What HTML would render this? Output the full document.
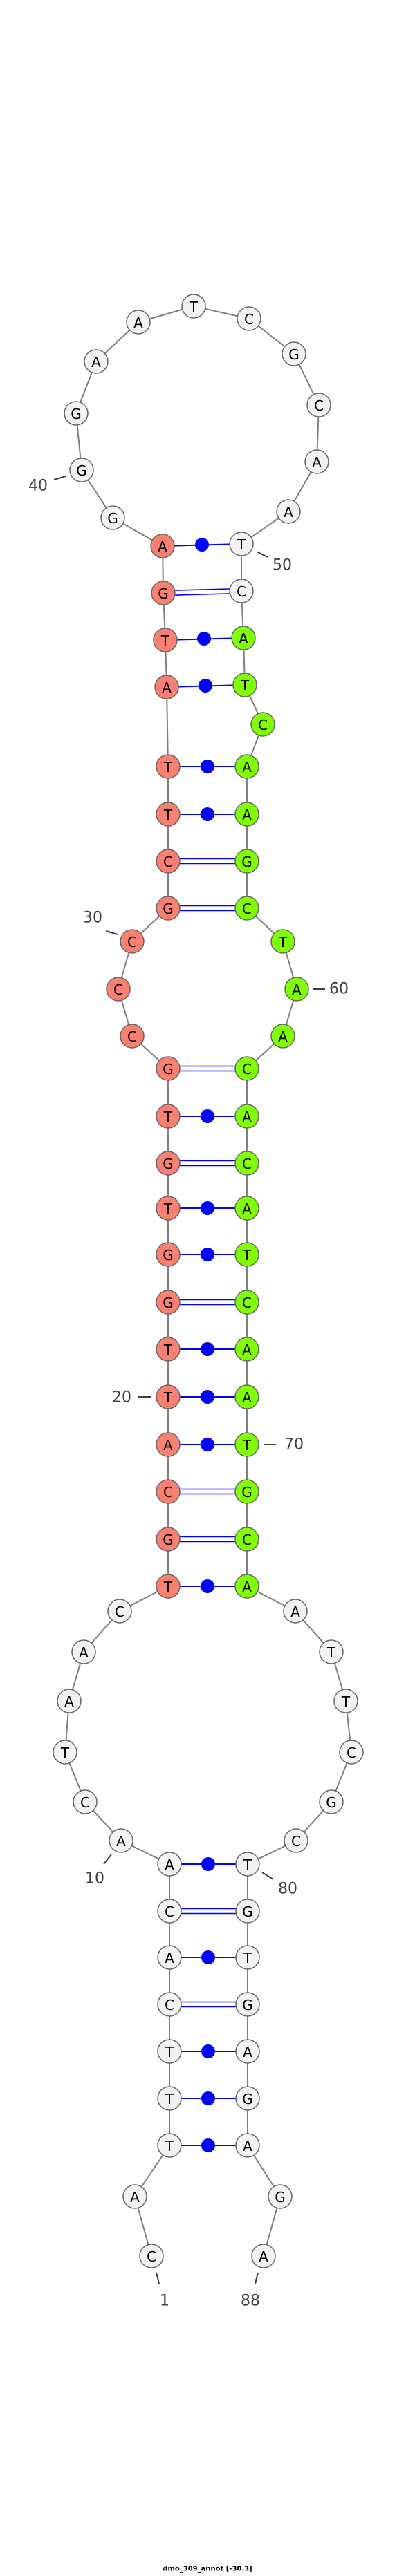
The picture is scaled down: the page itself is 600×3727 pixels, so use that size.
<!DOCTYPE html>
<html><head><meta charset="utf-8"><style>
html,body{margin:0;padding:0;background:#fff;}
svg{display:block;}
.n text{font-family:"DejaVu Sans","Liberation Sans",sans-serif;font-size:20px;text-anchor:middle;dominant-baseline:central;fill:#000;}
.lb{font-family:"DejaVu Sans","Liberation Sans",sans-serif;font-size:22px;fill:#404040;text-anchor:middle;dominant-baseline:central;}
</style></head><body>
<svg width="600" height="3727" viewBox="0 0 600 3727" xmlns="http://www.w3.org/2000/svg">
<polyline fill="none" stroke="#808080" stroke-width="2" points="219,3264 195,3178 245,3104 245,3036 245,2968 245,2900 245,2832 245,2765 245,2697 175,2663 123,2607 94,2535 100,2461 121,2390 173,2331 243,2295 243,2227 243,2158 243,2090 243,2021 243,1952 243,1884 243,1815 243,1748 243,1683 243,1615 243,1546 191,1499 171,1431 191,1362 243,1314 243,1246 243,1178 243,1109 241,994 239,926 236,858 235,790 163,749 118,680 110,598 139,523 200,466 280,443 360,461 425,512 461,586 458,668 417,740 349,787 349,855 352,923 354,991 380,1048 357,1109 357,1178 357,1246 357,1314 409,1362 429,1431 409,1499 357,1546 357,1615 357,1683 357,1748 357,1815 357,1884 357,1952 357,2021 357,2090 357,2158 357,2227 357,2295 427,2331 479,2390 500,2461 508,2535 479,2607 428,2663 358,2697 358,2765 358,2832 358,2900 358,2968 358,3036 358,3104 405,3178 381,3264"/>
<g stroke="#0000ff" stroke-width="2">
<line x1="245" y1="3104" x2="358" y2="3104"/>
<line x1="245" y1="3036" x2="358" y2="3036"/>
<line x1="245" y1="2968" x2="358" y2="2968"/>
<line x1="245" y1="2832" x2="358" y2="2832"/>
<line x1="245" y1="2697" x2="358" y2="2697"/>
<line x1="243" y1="2295" x2="357" y2="2295"/>
<line x1="243" y1="2090" x2="357" y2="2090"/>
<line x1="243" y1="2021" x2="357" y2="2021"/>
<line x1="243" y1="1952" x2="357" y2="1952"/>
<line x1="243" y1="1815" x2="357" y2="1815"/>
<line x1="243" y1="1748" x2="357" y2="1748"/>
<line x1="243" y1="1615" x2="357" y2="1615"/>
<line x1="243" y1="1178" x2="357" y2="1178"/>
<line x1="243" y1="1109" x2="357" y2="1109"/>
<line x1="241" y1="994" x2="354" y2="991"/>
<line x1="239" y1="926" x2="352" y2="923"/>
<line x1="235" y1="790" x2="349" y2="787"/>
</g>
<g stroke="#0000ff" stroke-width="1.6">
<line x1="245" y1="2896.5" x2="358" y2="2896.5"/><line x1="245" y1="2903.5" x2="358" y2="2903.5"/>
<line x1="245" y1="2761.5" x2="358" y2="2761.5"/><line x1="245" y1="2768.5" x2="358" y2="2768.5"/>
<line x1="243" y1="2223.5" x2="357" y2="2223.5"/><line x1="243" y1="2230.5" x2="357" y2="2230.5"/>
<line x1="243" y1="2154.5" x2="357" y2="2154.5"/><line x1="243" y1="2161.5" x2="357" y2="2161.5"/>
<line x1="243" y1="1880.5" x2="357" y2="1880.5"/><line x1="243" y1="1887.5" x2="357" y2="1887.5"/>
<line x1="243" y1="1679.5" x2="357" y2="1679.5"/><line x1="243" y1="1686.5" x2="357" y2="1686.5"/>
<line x1="243" y1="1542.5" x2="357" y2="1542.5"/><line x1="243" y1="1549.5" x2="357" y2="1549.5"/>
<line x1="243" y1="1310.5" x2="357" y2="1310.5"/><line x1="243" y1="1317.5" x2="357" y2="1317.5"/>
<line x1="243" y1="1242.5" x2="357" y2="1242.5"/><line x1="243" y1="1249.5" x2="357" y2="1249.5"/>
<line x1="236" y1="854.5" x2="349" y2="851.5"/><line x1="236" y1="861.5" x2="349" y2="858.5"/>
</g>
<g fill="#0000ff">
<circle cx="301" cy="3104" r="10"/><circle cx="301" cy="3036" r="10"/><circle cx="301" cy="2968" r="10"/>
<circle cx="301" cy="2832" r="10"/><circle cx="301" cy="2697" r="10"/><circle cx="300" cy="2295" r="10"/>
<circle cx="300" cy="2090" r="10"/><circle cx="300" cy="2021" r="10"/><circle cx="300" cy="1952" r="10"/>
<circle cx="300" cy="1815" r="10"/><circle cx="300" cy="1748" r="10"/><circle cx="300" cy="1615" r="10"/>
<circle cx="300" cy="1178" r="10"/><circle cx="300" cy="1109" r="10"/><circle cx="297" cy="992" r="10"/>
<circle cx="295" cy="924" r="10"/><circle cx="292" cy="788" r="10"/>
</g>
<g class="n" stroke-width="1.5">
<g stroke="#666"><circle cx="219" cy="3264" r="17" fill="#f2f2f2"/><circle cx="195" cy="3178" r="17" fill="#f2f2f2"/><circle cx="245" cy="3104" r="17" fill="#f2f2f2"/><circle cx="245" cy="3036" r="17" fill="#f2f2f2"/><circle cx="245" cy="2968" r="17" fill="#f2f2f2"/><circle cx="245" cy="2900" r="17" fill="#f2f2f2"/><circle cx="245" cy="2832" r="17" fill="#f2f2f2"/><circle cx="245" cy="2765" r="17" fill="#f2f2f2"/><circle cx="245" cy="2697" r="17" fill="#f2f2f2"/><circle cx="175" cy="2663" r="17" fill="#f2f2f2"/><circle cx="123" cy="2607" r="17" fill="#f2f2f2"/><circle cx="94" cy="2535" r="17" fill="#f2f2f2"/><circle cx="100" cy="2461" r="17" fill="#f2f2f2"/><circle cx="121" cy="2390" r="17" fill="#f2f2f2"/><circle cx="173" cy="2331" r="17" fill="#f2f2f2"/>
<circle cx="243" cy="2295" r="17" fill="#fa8072"/><circle cx="243" cy="2227" r="17" fill="#fa8072"/><circle cx="243" cy="2158" r="17" fill="#fa8072"/><circle cx="243" cy="2090" r="17" fill="#fa8072"/><circle cx="243" cy="2021" r="17" fill="#fa8072"/><circle cx="243" cy="1952" r="17" fill="#fa8072"/><circle cx="243" cy="1884" r="17" fill="#fa8072"/><circle cx="243" cy="1815" r="17" fill="#fa8072"/><circle cx="243" cy="1748" r="17" fill="#fa8072"/><circle cx="243" cy="1683" r="17" fill="#fa8072"/><circle cx="243" cy="1615" r="17" fill="#fa8072"/><circle cx="243" cy="1546" r="17" fill="#fa8072"/><circle cx="191" cy="1499" r="17" fill="#fa8072"/><circle cx="171" cy="1431" r="17" fill="#fa8072"/><circle cx="191" cy="1362" r="17" fill="#fa8072"/><circle cx="243" cy="1314" r="17" fill="#fa8072"/><circle cx="243" cy="1246" r="17" fill="#fa8072"/><circle cx="243" cy="1178" r="17" fill="#fa8072"/><circle cx="243" cy="1109" r="17" fill="#fa8072"/><circle cx="241" cy="994" r="17" fill="#fa8072"/><circle cx="239" cy="926" r="17" fill="#fa8072"/><circle cx="236" cy="858" r="17" fill="#fa8072"/><circle cx="235" cy="790" r="17" fill="#fa8072"/>
<circle cx="163" cy="749" r="17" fill="#f2f2f2"/><circle cx="118" cy="680" r="17" fill="#f2f2f2"/><circle cx="110" cy="598" r="17" fill="#f2f2f2"/><circle cx="139" cy="523" r="17" fill="#f2f2f2"/><circle cx="200" cy="466" r="17" fill="#f2f2f2"/><circle cx="280" cy="443" r="17" fill="#f2f2f2"/><circle cx="360" cy="461" r="17" fill="#f2f2f2"/><circle cx="425" cy="512" r="17" fill="#f2f2f2"/><circle cx="461" cy="586" r="17" fill="#f2f2f2"/><circle cx="458" cy="668" r="17" fill="#f2f2f2"/><circle cx="417" cy="740" r="17" fill="#f2f2f2"/><circle cx="349" cy="787" r="17" fill="#f2f2f2"/><circle cx="349" cy="855" r="17" fill="#f2f2f2"/>
<circle cx="352" cy="923" r="17" fill="#7fff00"/><circle cx="354" cy="991" r="17" fill="#7fff00"/><circle cx="380" cy="1048" r="17" fill="#7fff00"/><circle cx="357" cy="1109" r="17" fill="#7fff00"/><circle cx="357" cy="1178" r="17" fill="#7fff00"/><circle cx="357" cy="1246" r="17" fill="#7fff00"/><circle cx="357" cy="1314" r="17" fill="#7fff00"/><circle cx="409" cy="1362" r="17" fill="#7fff00"/><circle cx="429" cy="1431" r="17" fill="#7fff00"/><circle cx="409" cy="1499" r="17" fill="#7fff00"/><circle cx="357" cy="1546" r="17" fill="#7fff00"/><circle cx="357" cy="1615" r="17" fill="#7fff00"/><circle cx="357" cy="1683" r="17" fill="#7fff00"/><circle cx="357" cy="1748" r="17" fill="#7fff00"/><circle cx="357" cy="1815" r="17" fill="#7fff00"/><circle cx="357" cy="1884" r="17" fill="#7fff00"/><circle cx="357" cy="1952" r="17" fill="#7fff00"/><circle cx="357" cy="2021" r="17" fill="#7fff00"/><circle cx="357" cy="2090" r="17" fill="#7fff00"/><circle cx="357" cy="2158" r="17" fill="#7fff00"/><circle cx="357" cy="2227" r="17" fill="#7fff00"/><circle cx="357" cy="2295" r="17" fill="#7fff00"/>
<circle cx="427" cy="2331" r="17" fill="#f2f2f2"/><circle cx="479" cy="2390" r="17" fill="#f2f2f2"/><circle cx="500" cy="2461" r="17" fill="#f2f2f2"/><circle cx="508" cy="2535" r="17" fill="#f2f2f2"/><circle cx="479" cy="2607" r="17" fill="#f2f2f2"/><circle cx="428" cy="2663" r="17" fill="#f2f2f2"/><circle cx="358" cy="2697" r="17" fill="#f2f2f2"/><circle cx="358" cy="2765" r="17" fill="#f2f2f2"/><circle cx="358" cy="2832" r="17" fill="#f2f2f2"/><circle cx="358" cy="2900" r="17" fill="#f2f2f2"/><circle cx="358" cy="2968" r="17" fill="#f2f2f2"/><circle cx="358" cy="3036" r="17" fill="#f2f2f2"/><circle cx="358" cy="3104" r="17" fill="#f2f2f2"/><circle cx="405" cy="3178" r="17" fill="#f2f2f2"/><circle cx="381" cy="3264" r="17" fill="#f2f2f2"/></g>
<text x="219" y="3265">C</text><text x="195" y="3179">A</text><text x="245" y="3105">T</text><text x="245" y="3037">T</text><text x="245" y="2969">T</text><text x="245" y="2901">C</text><text x="245" y="2833">A</text><text x="245" y="2766">C</text><text x="245" y="2698">A</text><text x="175" y="2664">A</text><text x="123" y="2608">C</text><text x="94" y="2536">T</text><text x="100" y="2462">A</text><text x="121" y="2391">A</text><text x="173" y="2332">C</text>
<text x="243" y="2296">T</text><text x="243" y="2228">G</text><text x="243" y="2159">C</text><text x="243" y="2091">A</text><text x="243" y="2022">T</text><text x="243" y="1953">T</text><text x="243" y="1885">G</text><text x="243" y="1816">G</text><text x="243" y="1749">T</text><text x="243" y="1684">G</text><text x="243" y="1616">T</text><text x="243" y="1547">G</text><text x="191" y="1500">C</text><text x="171" y="1432">C</text><text x="191" y="1363">C</text><text x="243" y="1315">G</text><text x="243" y="1247">C</text><text x="243" y="1179">T</text><text x="243" y="1110">T</text><text x="241" y="995">A</text><text x="239" y="927">T</text><text x="236" y="859">G</text><text x="235" y="791">A</text>
<text x="163" y="750">G</text><text x="118" y="681">G</text><text x="110" y="599">G</text><text x="139" y="524">A</text><text x="200" y="467">A</text><text x="280" y="444">T</text><text x="360" y="462">C</text><text x="425" y="513">G</text><text x="461" y="587">C</text><text x="458" y="669">A</text><text x="417" y="741">A</text><text x="349" y="788">T</text><text x="349" y="856">C</text>
<text x="352" y="924">A</text><text x="354" y="992">T</text><text x="380" y="1049">C</text><text x="357" y="1110">A</text><text x="357" y="1179">A</text><text x="357" y="1247">G</text><text x="357" y="1315">C</text><text x="409" y="1363">T</text><text x="429" y="1432">A</text><text x="409" y="1500">A</text><text x="357" y="1547">C</text><text x="357" y="1616">A</text><text x="357" y="1684">C</text><text x="357" y="1749">A</text><text x="357" y="1816">T</text><text x="357" y="1885">C</text><text x="357" y="1953">A</text><text x="357" y="2022">A</text><text x="357" y="2091">T</text><text x="357" y="2159">G</text><text x="357" y="2228">C</text><text x="357" y="2296">A</text>
<text x="427" y="2332">A</text><text x="479" y="2391">T</text><text x="500" y="2462">T</text><text x="508" y="2536">C</text><text x="479" y="2608">G</text><text x="428" y="2664">C</text><text x="358" y="2698">T</text><text x="358" y="2766">G</text><text x="358" y="2833">T</text><text x="358" y="2901">G</text><text x="358" y="2969">A</text><text x="358" y="3037">G</text><text x="358" y="3105">A</text><text x="405" y="3179">G</text><text x="381" y="3265">A</text>
</g>
<g stroke="#404040" stroke-width="2">
<line x1="226" y1="3288" x2="230" y2="3304"/><line x1="373" y1="3288" x2="369" y2="3304"/>
<line x1="161" y1="2683" x2="150" y2="2697"/><line x1="379" y1="2709" x2="395" y2="2719"/>
<line x1="200" y1="2021" x2="218" y2="2021"/><line x1="382" y1="2090" x2="399" y2="2090"/>
<line x1="153" y1="1347" x2="170" y2="1352"/><line x1="453" y1="1431" x2="470" y2="1431"/>
<line x1="78" y1="694" x2="95" y2="689"/><line x1="371" y1="798" x2="387" y2="806"/>
</g>
<text class="lb" x="238" y="3329">1</text><text class="lb" x="362" y="3329">88</text>
<text class="lb" x="137" y="2718">10</text><text class="lb" x="416" y="2733">80</text>
<text class="lb" x="176" y="2022">20</text><text class="lb" x="425" y="2090">70</text>
<text class="lb" x="134" y="1328">30</text><text class="lb" x="490" y="1431">60</text>
<text class="lb" x="55" y="703">40</text><text class="lb" x="408" y="818">50</text>
<text x="300" y="3717" font-family="'DejaVu Sans','Liberation Sans',sans-serif" font-size="10" font-weight="bold" text-anchor="middle" dominant-baseline="central" fill="#000">dmo_309_annot [-30.3]</text>
</svg>
</body></html>
